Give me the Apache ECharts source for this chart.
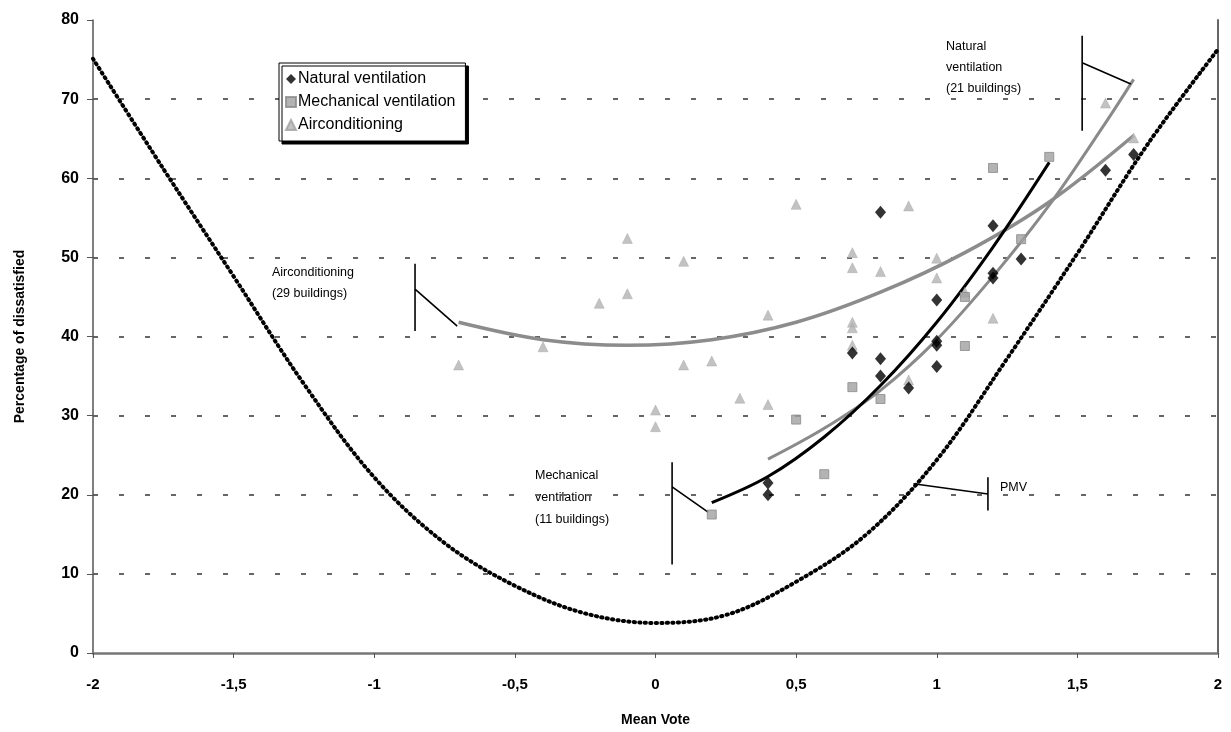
<!DOCTYPE html>
<html>
<head>
<meta charset="utf-8">
<script src="https://cdn.jsdelivr.net/npm/echarts@6/dist/echarts.min.js"></script>
<style>
html,body{margin:0;padding:0;background:#fff;}
#chart{width:1231px;height:732px;}
</style>
</head>
<body>
<div id="chart"></div>
<script>
// ---- Data ----
const yTicks = [0, 10, 20, 30, 40, 50, 60, 70, 80];
const xTicks = [-2, -1.5, -1, -0.5, 0, 0.5, 1, 1.5, 2];

const naturalX = [0.4, 0.4, 0.7, 0.8, 0.8, 0.8, 0.9, 1.0, 1.0, 1.0, 1.0, 1.2, 1.2, 1.2, 1.3, 1.6, 1.7];
const naturalY = [21.5, 20.0, 37.9, 55.7, 37.2, 35.0, 33.5, 44.6, 39.4, 38.9, 36.2, 54.0, 48.0, 47.4, 49.8, 61.0, 63.0];

const mechX = [0.2, 0.5, 0.6, 0.7, 0.8, 1.1, 1.1, 1.2, 1.3, 1.4];
const mechY = [17.5, 29.5, 22.6, 33.6, 32.1, 38.8, 45.0, 61.3, 52.3, 62.7];

const acX = [-0.7, -0.4, -0.2, -0.1, -0.1, 0.0, 0.0, 0.1, 0.1, 0.2, 0.3, 0.4, 0.4, 0.5, 0.7, 0.7, 0.7, 0.7, 0.7, 0.8, 0.9, 0.9, 1.0, 1.0, 1.1, 1.2, 1.6, 1.7];
const acY = [36.4, 38.7, 44.2, 45.4, 52.4, 30.7, 28.6, 49.5, 36.4, 36.9, 32.2, 31.4, 42.7, 56.7, 50.6, 48.7, 41.8, 41.1, 38.9, 48.2, 56.5, 34.5, 49.9, 47.4, 45.6, 42.3, 69.5, 65.1];

// PMV curve
const pmvX = [-2.0, -1.75, -1.5, -1.25, -1.0, -0.75, -0.5, -0.25, 0.0, 0.25, 0.5, 0.75, 1.0, 1.25, 1.5, 1.75, 2.0];
const pmvY = [75.1, 61.2, 47.6, 34.0, 22.2, 13.9, 8.5, 5.0, 3.8, 4.8, 9.0, 15.0, 24.4, 37.2, 50.5, 64.3, 76.3];

// Fitted curves
const blackFitX = [0.2, 0.4, 0.6, 0.8, 1.0, 1.2, 1.4];
const blackFitY = [19.0, 22.3, 27.3, 33.8, 41.8, 51.3, 62.0];
const greyFitX = [0.4, 0.6, 0.8, 1.0, 1.2, 1.4, 1.6, 1.7];
const greyFitY = [24.5, 28.4, 33.2, 39.6, 47.6, 56.6, 67.0, 72.5];
const acFitX = [-0.7, -0.4, -0.1, 0.2, 0.5, 0.8, 1.1, 1.4, 1.7];
const acFitY = [41.8, 39.6, 38.9, 39.6, 41.8, 45.6, 50.6, 57.0, 65.4];

// Annotation leader lines (data coordinates)
const annAcX = [-0.855, -0.855, -0.855, -0.855, -0.705];
const annAcY = [49.2, 40.7, null, 46.0, 41.3];
const annMechX = [0.059, 0.059, 0.059, 0.059, 0.187];
const annMechY = [24.1, 11.2, null, 21.0, 17.8];
const annNatX = [1.517, 1.517, 1.517, 1.517, 1.69];
const annNatY = [78.0, 66.0, null, 74.6, 71.9];
const annPmvX = [0.917, 1.182, 1.182, 1.182];
const annPmvY = [21.4, 20.1, null, 22.2];
const annPmvX2 = [1.182, 1.182];
const annPmvY2 = [22.2, 18.0];

const zip = (xs, ys) => xs.map((x, i) => [x, ys[i]]);
const seg = (xs, ys) => xs.map((x, i) => ys[i] === null ? '-' : [x, ys[i]]);

const chart = echarts.init(document.getElementById('chart'));
const fmt = v => String(v).replace('.', ',');

const annStyle = { color: '#000', width: 1.6 };
function annSeries(xs, ys) {
  return {
    type: 'line', data: seg(xs, ys), showSymbol: false, symbol: 'none',
    lineStyle: annStyle, silent: true, z: 3, connectNulls: false
  };
}
const txtFont = '12.5px Arial, "Liberation Sans", sans-serif';

chart.setOption({
  animation: false,
  backgroundColor: '#fff',
  grid: { left: 93, right: 13, top: 20, bottom: 75, containLabel: false },
  xAxis: {
    type: 'value', min: -2, max: 2, interval: 0.5,
    axisLine: { show: true, onZero: false, lineStyle: { color: '#777', width: 2.5 } },
    axisTick: { show: true, length: 5, lineStyle: { color: '#555', width: 1 } },
    splitLine: { show: false },
    axisLabel: {
      formatter: fmt, margin: 24, color: '#000',
      fontFamily: '"Liberation Sans Narrow", "Arial Narrow", Arial, sans-serif',
      fontWeight: 'bold', fontSize: 15
    },
    name: 'Mean Vote', nameLocation: 'middle', nameGap: 60,
    nameTextStyle: { fontFamily: '"Liberation Sans Narrow", Arial, sans-serif', fontWeight: 'bold', fontSize: 14, color: '#000' }
  },
  yAxis: [{
    type: 'value', min: 0, max: 80, interval: 10, position: 'left',
    axisLine: { show: true, onZero: false, lineStyle: { color: '#555', width: 1.5 } },
    axisTick: { show: true, length: 6, lineStyle: { color: '#555', width: 1 } },
    splitLine: { show: true, showMinLine: false, showMaxLine: false,
      lineStyle: { color: '#666', width: 2, type: [5, 21] } },
    axisLabel: { margin: 14, color: '#000', fontFamily: 'Arial, "Liberation Sans", sans-serif', fontWeight: 'bold', fontSize: 16 },
    name: 'Percentage of dissatisfied', nameLocation: 'middle', nameGap: 66, nameRotate: 90,
    nameTextStyle: { fontFamily: 'Arial, "Liberation Sans", sans-serif', fontWeight: 'bold', fontSize: 14, color: '#000' }
  }, {
    type: 'value', min: 0, max: 80, interval: 10, position: 'right',
    axisLine: { show: true, onZero: false, lineStyle: { color: '#666', width: 2 } },
    axisTick: { show: false }, axisLabel: { show: false }, splitLine: { show: false }
  }],
  legend: {
    orient: 'vertical', left: 279, top: 63,
    data: ['Natural ventilation', 'Mechanical ventilation', 'Airconditioning'],
    backgroundColor: '#fff', borderColor: '#000', borderWidth: 1,
    shadowColor: '#000', shadowBlur: 0, shadowOffsetX: 3, shadowOffsetY: 3,
    padding: [8, 10, 8, 6], itemGap: 7, itemWidth: 10, itemHeight: 10,
    textStyle: { fontFamily: 'Arial, "Liberation Sans", sans-serif', fontSize: 16, color: '#000', padding: [0, 0, 0, -3] }
  },
  graphic: [
    { type: 'text', left: 272, top: 262, style: { text: 'Airconditioning\n(29 buildings)', font: txtFont, lineHeight: 21, fill: '#000' } },
    { type: 'text', left: 535, top: 465, style: { text: 'Mechanical\nventilation\n(11 buildings)', font: txtFont, lineHeight: 22, fill: '#000' } },
    { type: 'text', left: 946, top: 36, style: { text: 'Natural\nventilation\n(21 buildings)', font: txtFont, lineHeight: 21, fill: '#000' } },
    { type: 'text', left: 1000, top: 481, style: { text: 'PMV', font: txtFont, fill: '#000' } }
  ],
  series: [
    { name: 'PMV', type: 'line', data: zip(pmvX, pmvY), smooth: 0.35, showSymbol: false, symbol: 'none',
      lineStyle: { color: '#000', width: 4, type: [1.2, 4.3], cap: 'round' }, z: 2 },
    { name: 'acFit', type: 'line', data: zip(acFitX, acFitY), smooth: 0.35, showSymbol: false, symbol: 'none',
      lineStyle: { color: '#8c8c8c', width: 3.5 }, z: 2 },
    { name: 'greyFit', type: 'line', data: zip(greyFitX, greyFitY), smooth: 0.35, showSymbol: false, symbol: 'none',
      lineStyle: { color: '#8a8a8a', width: 3 }, z: 2 },
    { name: 'blackFit', type: 'line', data: zip(blackFitX, blackFitY), smooth: 0.35, showSymbol: false, symbol: 'none',
      lineStyle: { color: '#000', width: 3 }, z: 2 },
    annSeries(annAcX, annAcY),
    annSeries(annMechX, annMechY),
    annSeries(annNatX, annNatY),
    annSeries(annPmvX, annPmvY),
    annSeries(annPmvX2, annPmvY2),
    { name: 'Airconditioning', type: 'scatter', data: zip(acX, acY), symbol: 'triangle', symbolSize: 10,
      itemStyle: { color: '#b3b3b3', borderColor: '#a0a0a0', borderWidth: 0.5 }, z: 4 },
    { name: 'Mechanical ventilation', type: 'scatter', data: zip(mechX, mechY), symbol: 'rect', symbolSize: 9,
      itemStyle: { color: '#a0a0a0', borderColor: '#8a8a8a', borderWidth: 1 }, z: 4 },
    { name: 'Natural ventilation', type: 'scatter', data: zip(naturalX, naturalY), symbol: 'diamond', symbolSize: [11, 13],
      itemStyle: { color: '#000' }, z: 5 }
  ]
});
</script>
</body>
</html>
